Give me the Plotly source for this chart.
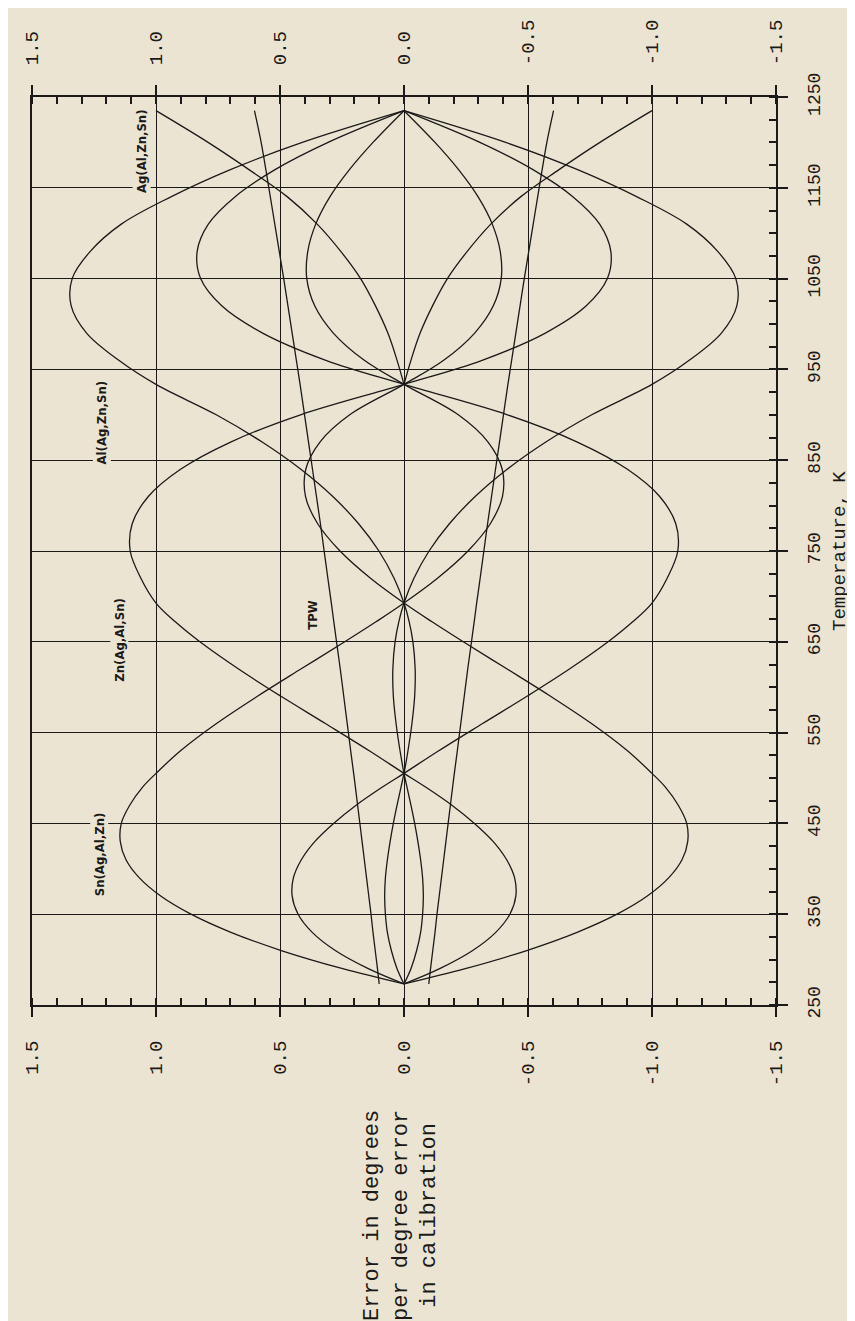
import plotly.graph_objects as go

# ---------------- data ----------------
temperature_K = [273.16, 290, 310, 330, 350, 370, 390, 410, 430, 450, 470, 490, 505.08,
                 530, 560, 590, 620, 650, 672, 692.68, 720, 750, 780, 810, 840, 870, 900,
                 933.47, 960, 990, 1020, 1050, 1080, 1110, 1140, 1170, 1200, 1234.93]

sn_error = [0, 0.247, 0.495, 0.698, 0.859, 0.981, 1.067, 1.121, 1.144, 1.140, 1.106, 1.054, 1.000,
            0.901, 0.756, 0.591, 0.416, 0.239, 0.113, 0, -0.135, -0.258, -0.348, -0.397, -0.396,
            -0.339, -0.219, 0, 0.160, 0.285, 0.360, 0.392, 0.388, 0.356, 0.299, 0.220, 0.125, 0]

zn_error = [0, -0.144, -0.277, -0.370, -0.427, -0.451, -0.446, -0.414, -0.360, -0.284, -0.193, -0.087, 0,
            0.140, 0.317, 0.496, 0.667, 0.823, 0.922, 1.000, 1.061, 1.104, 1.096, 1.031, 0.901,
            0.699, 0.417, 0, -0.315, -0.570, -0.735, -0.820, -0.834, -0.789, -0.682, -0.520, -0.306, 0]

al_error = [0, 0.028, 0.051, 0.067, 0.075, 0.078, 0.075, 0.067, 0.056, 0.043, 0.028, 0.012, 0,
            -0.016, -0.032, -0.043, -0.045, -0.036, -0.021, 0, 0.040, 0.101, 0.183, 0.287, 0.416,
            0.572, 0.757, 1.000, 1.150, 1.280, 1.342, 1.338, 1.265, 1.140, 0.940, 0.700, 0.410, 0]

tpw_error = [0.100, 0.107, 0.116, 0.125, 0.133, 0.142, 0.151, 0.160, 0.169, 0.178, 0.187, 0.196, 0.203,
             0.215, 0.229, 0.243, 0.257, 0.272, 0.283, 0.293, 0.307, 0.322, 0.337, 0.353, 0.369,
             0.385, 0.401, 0.419, 0.434, 0.451, 0.468, 0.485, 0.503, 0.521, 0.539, 0.557, 0.576, 0.603]

ag_temperature_K = [933.47, 960, 990, 1020, 1050, 1080, 1110, 1140, 1170, 1200, 1234.93]
ag_error = [0, 0.028, 0.065, 0.115, 0.175, 0.255, 0.350, 0.470, 0.625, 0.790, 1.000]

error_tick_values = [1.5, 1.0, 0.5, 0.0, -0.5, -1.0, -1.5]
error_tick_text = ["1.5", "1.0", "0.5", "0.0", "-0.5", "-1.0", "-1.5"]
temp_tick_values = [250, 350, 450, 550, 650, 750, 850, 950, 1050, 1150, 1250]
temp_tick_text = ["250", "350", "450", "550", "650", "750", "850", "950", "1050", "1150", "1250"]

curve_labels = ["Sn(Ag,Al,Zn)", "Zn(Ag,Al,Sn)", "Al(Ag,Zn,Sn)", "Ag(Al,Zn,Sn)", "TPW"]
label_error = [1.23, 1.146, 1.22, 1.058, 0.37]
label_temp = [416, 652, 892, 1190, 680]

# ---------------- styling ----------------
INK = "#1b1a18"
BG = "#ebe4d3"
MONO = "Liberation Mono, Courier New, monospace"
LABEL_FONT = "DejaVu Sans Condensed, Liberation Sans Narrow, Arial Narrow, sans-serif"

fig = go.Figure()

series = [
    (temperature_K, sn_error),
    (temperature_K, zn_error),
    (temperature_K, al_error),
    (ag_temperature_K, ag_error),
    (temperature_K, tpw_error),
]

for temps, vals in series:
    fig.add_trace(go.Scatter(x=vals, y=temps, mode="lines", xaxis="x", yaxis="y",
                             line=dict(color=INK, width=1.3, shape="spline", smoothing=1.0),
                             hoverinfo="skip", showlegend=False))
    fig.add_trace(go.Scatter(x=[-v for v in vals], y=temps, mode="lines", xaxis="x2", yaxis="y",
                             line=dict(color=INK, width=1.3, shape="spline", smoothing=1.0),
                             hoverinfo="skip", showlegend=False))

common_x = dict(
    range=[1.5, -1.5], tickmode="array", tickvals=error_tick_values, ticktext=error_tick_text,
    tickangle=-90, ticks="outside", ticklen=10, tickwidth=2, tickcolor=INK,
    tickfont=dict(family=MONO, size=19, color=INK), ticklabelstandoff=16,
    showline=True, linewidth=2, linecolor=INK, zeroline=False,
    minor=dict(tickmode="linear", tick0=0, dtick=0.1, ticks="inside", ticklen=7,
               tickwidth=1.5, tickcolor=INK, showgrid=False),
)

fig.update_layout(
    width=855, height=1321,
    margin=dict(l=24, r=87, t=87, b=324),
    paper_bgcolor=BG, plot_bgcolor=BG,
    showlegend=False,
    xaxis=dict(**common_x, side="bottom", showgrid=True, gridcolor=INK, gridwidth=1.4, anchor="y"),
    xaxis2=dict(**common_x, side="top", overlaying="x", showgrid=False, anchor="y"),
    yaxis=dict(
        range=[250, 1250], side="right", tickmode="array", tickvals=temp_tick_values,
        ticktext=temp_tick_text, tickangle=-90, ticks="outside", ticklen=10, tickwidth=2,
        tickcolor=INK, tickfont=dict(family=MONO, size=18, color=INK), ticklabelstandoff=10,
        showgrid=True, gridcolor=INK, gridwidth=1.4, zeroline=False,
        showline=True, mirror=True, linewidth=2, linecolor=INK,
        minor=dict(tickmode="linear", tick0=250, dtick=25, ticks="inside", ticklen=7,
                   tickwidth=1.5, tickcolor=INK, showgrid=False),
    ),
)

for text, ex, ty in zip(curve_labels, label_error, label_temp):
    fig.add_annotation(x=ex, y=ty, xref="x", yref="y", text="<b>" + text + "</b>",
                       textangle=-90, showarrow=False, bgcolor=BG, borderpad=1,
                       font=dict(family=LABEL_FONT, size=13, color=INK))

fig.add_annotation(x=1, y=750, xref="paper", yref="y", xshift=64, text="Temperature, K",
                   textangle=-90, showarrow=False, xanchor="center", yanchor="middle",
                   font=dict(family=MONO, size=19, color=INK))

fig.add_annotation(x=0.0, y=0, xref="x", yref="paper", yshift=-211, xshift=-3,
                   text="Error in degrees<br>per degree error<br>in calibration",
                   textangle=-90, showarrow=False, align="center",
                   xanchor="center", yanchor="middle",
                   font=dict(family=MONO, size=22, color=INK))

fig.write_html("out.html")
